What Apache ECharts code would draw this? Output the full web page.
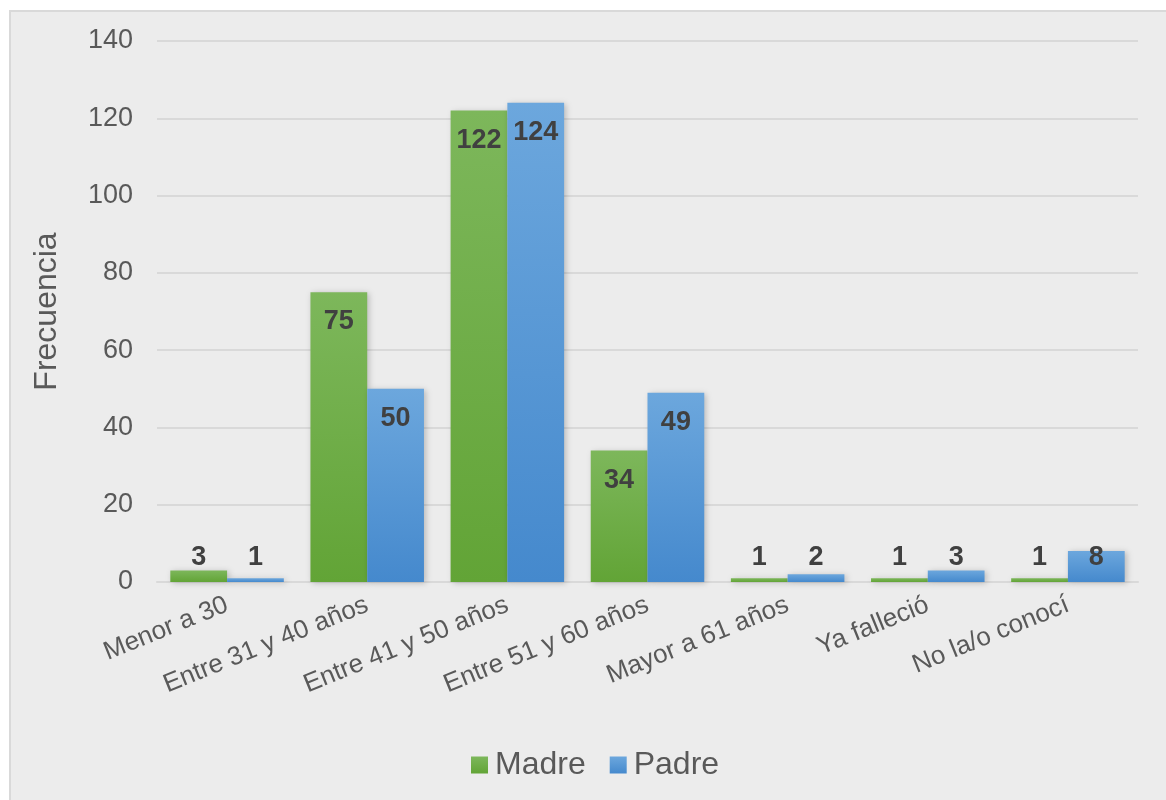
<!DOCTYPE html>
<html>
<head>
<meta charset="utf-8">
<script src="https://cdn.jsdelivr.net/npm/echarts@6/dist/echarts.min.js"></script>
<style>
  html, body { margin: 0; padding: 0; background: #ffffff; }
  #container { width: 1166px; height: 800px; }
</style>
</head>
<body>
<div id="container"></div>
<script>
//初始化echarts
var dom = document.getElementById('container');
var myChart = echarts.init(dom, null, { renderer: 'canvas' });

//数据
var categories = ['Menor a 30', 'Entre 31 y 40 años', 'Entre 41 y 50 años', 'Entre 51 y 60 años', 'Mayor a 61 años', 'Ya falleció', 'No la/o conocí'];
var madre = [3, 75, 122, 34, 1, 1, 1];
var padre = [1, 50, 124, 49, 2, 3, 8];
var yTicks = [0, 20, 40, 60, 80, 100, 120, 140];

var textColor = '#595959';
var labelColor = '#404040';

//小的柱子标签放在底部
function makeData(values) {
  return values.map(function (v) {
    return {
      value: v,
      label: v < 14 ? { position: 'insideBottom', distance: 11 } : { position: 'insideTop', distance: 16 }
    };
  });
}

var greenFill = new echarts.graphic.LinearGradient(0, 0, 0, 1, [
  { offset: 0, color: '#7db75b' },
  { offset: 1, color: '#62a436' }
]);
var blueFill = new echarts.graphic.LinearGradient(0, 0, 0, 1, [
  { offset: 0, color: '#6ca7dd' },
  { offset: 1, color: '#4589cd' }
]);

var barLabel = {
  show: true,
  color: labelColor,
  fontFamily: 'Liberation Sans, Arial, sans-serif',
  fontWeight: 'bold',
  fontSize: 27
};

var option = {
  backgroundColor: '#ffffff',
  textStyle: { fontFamily: 'Liberation Sans, Arial, sans-serif' },
  graphic: [{
    type: 'rect',
    z: -10,
    shape: { x: 10, y: 11, width: 1180, height: 820 },
    style: { fill: '#ececec', stroke: '#d9d9d9', lineWidth: 2 }
  }],
  grid: { left: 157, right: 28, top: 41, bottom: 218 },
  legend: {
    bottom: 14,
    left: 466,
    icon: 'rect',
    itemWidth: 17,
    itemHeight: 17,
    itemGap: 24,
    textStyle: { color: textColor, fontSize: 32, padding: [0, 0, 0, 2] },
    data: ['Madre', 'Padre']
  },
  xAxis: {
    type: 'category',
    data: categories,
    axisLine: { lineStyle: { color: '#d9d9d9', width: 2 } },
    axisTick: { show: false },
    axisLabel: {
      interval: 0,
      rotate: 22,
      margin: 22,
      color: textColor,
      fontSize: 26
    }
  },
  yAxis: {
    type: 'value',
    min: yTicks[0],
    max: yTicks[yTicks.length - 1],
    interval: 20,
    name: 'Frecuencia',
    nameLocation: 'middle',
    nameGap: 94,
    nameTextStyle: { color: textColor, fontSize: 32 },
    axisLine: { show: false },
    axisTick: { show: false },
    axisLabel: { color: textColor, fontSize: 27, margin: 24 },
    splitLine: { lineStyle: { color: '#d9d9d9', width: 2 } }
  },
  series: [
    {
      name: 'Madre',
      type: 'bar',
      data: makeData(madre),
      barGap: '0%',
      barCategoryGap: '19%',
      itemStyle: { color: greenFill, shadowBlur: 6, shadowOffsetX: 2, shadowOffsetY: 1, shadowColor: 'rgba(0,0,0,0.22)' },
      label: barLabel
    },
    {
      name: 'Padre',
      type: 'bar',
      data: makeData(padre),
      barGap: '0%',
      barCategoryGap: '19%',
      itemStyle: { color: blueFill, shadowBlur: 6, shadowOffsetX: 2, shadowOffsetY: 1, shadowColor: 'rgba(0,0,0,0.22)' },
      label: barLabel
    }
  ]
};

myChart.setOption(option);
window.addEventListener('resize', myChart.resize);
</script>
</body>
</html>
